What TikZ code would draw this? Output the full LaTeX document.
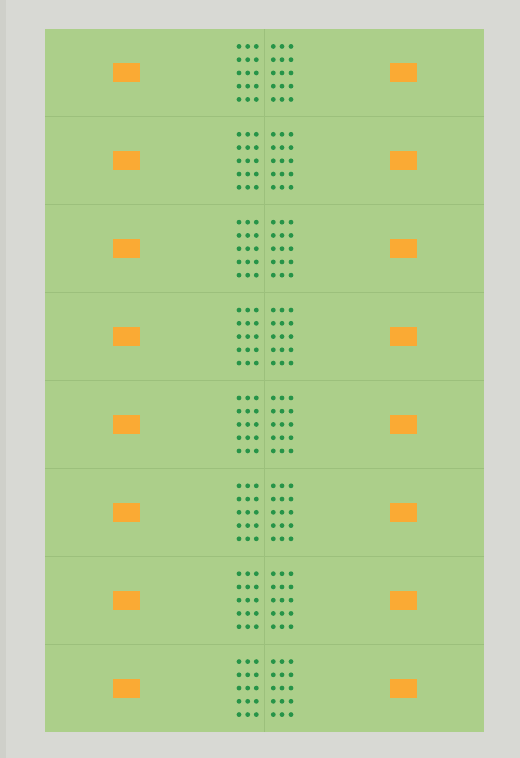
\documentclass[tikz,border=0pt]{standalone}
\usepackage{xcolor}
\usepackage{tikz}

\definecolor{bggrey}{RGB}{216,217,212}
\definecolor{edgegrey}{RGB}{207,208,202}
\definecolor{boardgreen}{RGB}{172,207,138}
\definecolor{seamgreen}{RGB}{156,192,124}
\definecolor{dotgreen}{RGB}{38,148,72}
\definecolor{padorange}{RGB}{250,170,52}

\begin{document}
\begin{tikzpicture}[x=0.02cm,y=-0.02cm]
  % background and board
  \fill[bggrey] (0,0) rectangle (520,758);
  \fill[edgegrey] (0,0) rectangle (6,758);
  \fill[boardgreen] (45,29) rectangle (484,732);
  % seams between the eight rows and the middle line
  \foreach \k in {1,...,7}
    \draw[seamgreen,line width=0.7pt] (45,{29+87.875*\k}) -- (484,{29+87.875*\k});
  \draw[seamgreen,line width=0.5pt] (264.5,29) -- (264.5,732);
  % pads and dot fields, one row at a time
  \foreach \r in {0,...,7}{
    \pgfmathsetmacro{\cy}{29+87.875*(\r+0.5)}
    \fill[padorange] (113,\cy-9.5) rectangle (140,\cy+9.5);
    \fill[padorange] (390,\cy-9.5) rectangle (417,\cy+9.5);
    \foreach \j in {-2,...,2}
      \foreach \x in {239,247.7,256.3,273.3,282,291}
        \fill[dotgreen] (\x,\cy+13.25*\j) circle[radius=2.4];
  }
\end{tikzpicture}
\end{document}
